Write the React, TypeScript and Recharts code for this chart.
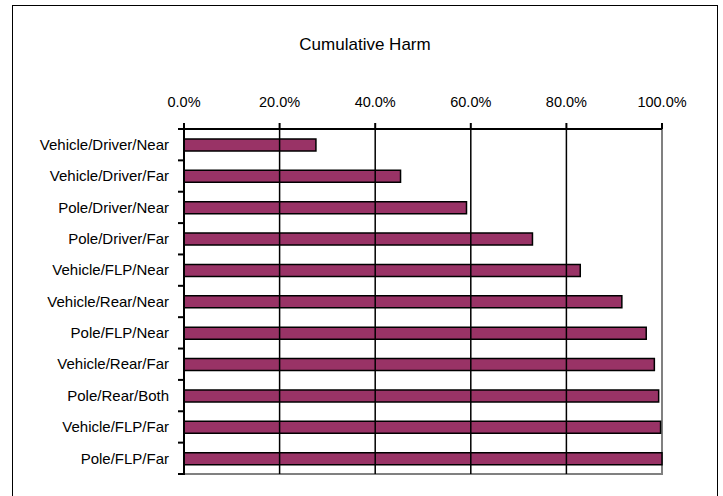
import React from "react";
import { BarChart, Bar, XAxis, YAxis, ReferenceLine, ReferenceArea } from "recharts";

const categories = [
  "Vehicle/Driver/Near",
  "Vehicle/Driver/Far",
  "Pole/Driver/Near",
  "Pole/Driver/Far",
  "Vehicle/FLP/Near",
  "Vehicle/Rear/Near",
  "Pole/FLP/Near",
  "Vehicle/Rear/Far",
  "Pole/Rear/Both",
  "Vehicle/FLP/Far",
  "Pole/FLP/Far",
];
const cumulativeHarm = [0.276, 0.453, 0.591, 0.729, 0.829, 0.916, 0.967, 0.984, 0.993, 0.997, 1.0];
const xTicks = [0, 0.2, 0.4, 0.6, 0.8, 1.0];
const gridTicks = [0.2, 0.4, 0.6, 0.8];
const title = "Cumulative Harm";

const data = categories.map((name, i) => ({ name, value: cumulativeHarm[i] }));

const FONT = '"Liberation Sans", Arial, sans-serif';
const W = 723;
const H = 496;
const MARGIN = { top: 99, right: 61, bottom: 22, left: 0 };
const XAXIS_H = 30;
const PLOT_H = H - MARGIN.top - XAXIS_H - MARGIN.bottom;
const BAND = PLOT_H / categories.length;

const CatTick = (props: any) => {
  const { x, y, payload, index } = props;
  return (
    <g>
      <text x={x - 7} y={y} dy="0.35em" textAnchor="end" fontSize={15} fontFamily={FONT} fill="#000">
        {payload.value}
      </text>
      <line x1={x + 2} x2={x + 9} y1={y + BAND / 2} y2={y + BAND / 2} stroke="#000" strokeWidth={2} />
      {index === 0 && (
        <line x1={x + 2} x2={x + 9} y1={y - BAND / 2} y2={y - BAND / 2} stroke="#000" strokeWidth={2} />
      )}
    </g>
  );
};

export default function App() {
  return (
    <div style={{ position: "absolute", left: 0, top: 0, width: W, height: H, background: "#fff" }}>
      <div
        style={{
          position: "absolute",
          left: 12,
          top: 5,
          width: 706,
          height: 495,
          border: "1px solid #000",
          boxSizing: "border-box",
        }}
      />
      <div
        style={{
          position: "absolute",
          left: 12,
          width: 706,
          top: 35,
          textAlign: "center",
          fontSize: 17,
          fontFamily: FONT,
          color: "#000",
          lineHeight: "20px",
        }}
      >
        {title}
      </div>
      <div style={{ position: "absolute", left: 0, top: 0 }}>
        <BarChart layout="vertical" width={W} height={H} data={data} margin={MARGIN}>
          <ReferenceArea x1={0} x2={1} fill="none" stroke="#808080" strokeWidth={2} ifOverflow="visible" />
          {gridTicks.map((t) => (
            <ReferenceLine key={t} x={t} stroke="#000" strokeWidth={1.5} />
          ))}
          <XAxis
            type="number"
            orientation="top"
            domain={[0, 1]}
            ticks={xTicks}
            interval={0}
            height={XAXIS_H}
            tickFormatter={(v: number) => (v * 100).toFixed(1) + "%"}
            axisLine={{ stroke: "#000", strokeWidth: 2 }}
            tickLine={{ stroke: "#000", strokeWidth: 2 }}
            tickSize={6}
            tickMargin={16}
            tick={{ fontSize: 14.5, fill: "#000", fontFamily: FONT }}
          />
          <YAxis
            type="category"
            dataKey="name"
            width={184}
            interval={0}
            axisLine={{ stroke: "#000", strokeWidth: 2 }}
            tickLine={false}
            tick={<CatTick />}
          />
          <Bar dataKey="value" fill="#993366" stroke="#000" strokeWidth={1.5} barSize={12} isAnimationActive={false} />
        </BarChart>
      </div>
    </div>
  );
}
